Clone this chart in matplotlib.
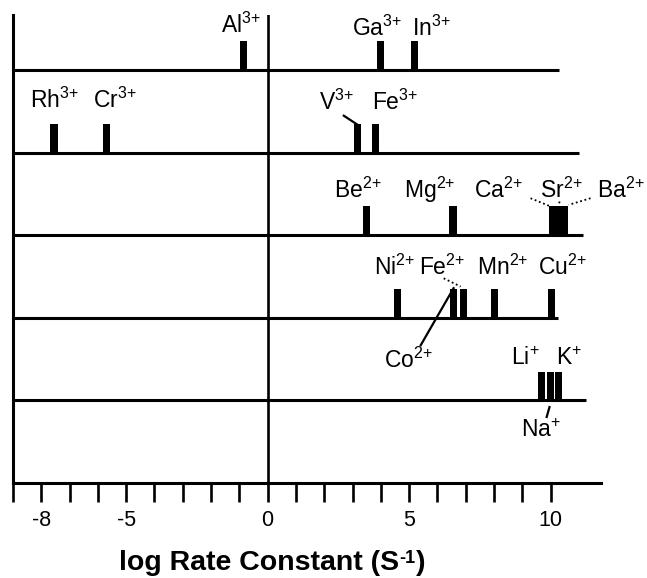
import matplotlib.pyplot as plt

plt.rcParams['font.family'] = ['Liberation Sans', 'DejaVu Sans']
plt.rcParams['mathtext.default'] = 'regular'
plt.rcParams['axes.unicode_minus'] = False

# metal ions, log of water exchange rate constant, row of the ladder
ions = ['Al', 'Ga', 'In',
        'Rh', 'Cr', 'V', 'Fe',
        'Be', 'Mg', 'Ca', 'Sr', 'Ba',
        'Ni', 'Co', 'Fe', 'Mn', 'Cu',
        'Li', 'Na', 'K']
charges = ['3', '3', '3',
           '3', '3', '3', '3',
           '2', '2', '2', '2', '2',
           '2', '2', '2', '2', '2',
           '', '', '']
log_k = [-0.85, 4.0, 5.2,
         -7.55, -5.7, 3.18, 3.82,
         3.5, 6.55, 10.05, 10.3, 10.5,
         4.6, 6.57, 6.93, 8.02, 10.03,
         9.68, 10.0, 10.28]
rows = [5, 5, 5,
        4, 4, 4, 4,
        3, 3, 3, 3, 3,
        2, 2, 2, 2, 2,
        1, 1, 1]

row_levels = [5, 4, 3, 2, 1]
row_ends = [10.28, 10.99, 11.13, 10.25, 11.24]

tick_pos = list(range(-9, 11))
tick_labels = ['-8' if t == -8 else '-5' if t == -5 else '0' if t == 0
               else '5' if t == 5 else '10' if t == 10 else '' for t in tick_pos]

fig = plt.figure(figsize=(6.47, 5.78), dpi=100)
ax = fig.add_axes([13 / 647, 95 / 578, 588 / 647, 468 / 578])
ax.set_xlim(-9, 11.78)
ax.set_ylim(0, 5.67)

lw = 2.2
for s in ['top', 'right']:
    ax.spines[s].set_visible(False)
for s in ['left', 'bottom']:
    ax.spines[s].set_linewidth(lw)
ax.set_yticks([])
ax.set_xticks(tick_pos)
ax.set_xticklabels(tick_labels, fontsize=15.5)
ax.tick_params(axis='x', direction='out', length=13.7, width=1.9, pad=6)

ax.axvline(0, color='black', lw=1.9)
ax.hlines(row_levels, -9, row_ends, color='black', lw=lw)

ax.bar(log_k, 0.35, width=0.25, bottom=rows, color='black', edgecolor='none')

# label positions (center x, baseline y) in data units
label_xy = {
    ('Al', 5): (-0.95, 5.45), ('Ga', 5): (3.85, 5.42), ('In', 5): (5.8, 5.42),
    ('Rh', 4): (-7.54, 4.54), ('Cr', 4): (-5.39, 4.54), ('V', 4): (2.42, 4.52),
    ('Fe', 4): (4.52, 4.52),
    ('Be', 3): (3.18, 3.46), ('Mg', 3): (5.72, 3.46), ('Ca', 3): (8.14, 3.46),
    ('Sr', 3): (10.39, 3.46), ('Ba', 3): (12.49, 3.46),
    ('Ni', 2): (4.47, 2.52), ('Co', 2): (4.98, 1.40), ('Fe', 2): (6.18, 2.52),
    ('Mn', 2): (8.32, 2.52), ('Cu', 2): (10.42, 2.52),
    ('Li', 1): (9.12, 1.43), ('Na', 1): (9.65, 0.56), ('K', 1): (10.64, 1.43),
}
for ion, ch, r in zip(ions, charges, rows):
    lx, ly = label_xy[(ion, r)]
    ax.text(lx, ly, ion + '$^{' + ch + '{+}}$', fontsize=16.5, ha='center',
            va='baseline', clip_on=False)

# leader lines
ax.plot([2.69, 3.18], [4.45, 4.34], color='black', lw=1.6)
ax.plot([6.57, 5.41], [2.36, 1.67], color='black', lw=1.6)
ax.plot([9.96, 9.86], [0.92, 0.80], color='black', lw=1.6)
for (x0, x1), (y0, y1) in [((9.29, 10.0), (3.45, 3.35)),
                           ((10.32, 10.28), (3.41, 3.37)),
                           ((11.41, 10.64), (3.45, 3.37)),
                           ((6.22, 6.82), (2.48, 2.38))]:
    ax.plot([x0, x1], [y0, y1], color='black', lw=1.3, ls=(0, (1, 1.5)),
            clip_on=False)

xl = ax.text(-5.27, -1.06, 'log Rate Constant (S', fontsize=20.5,
             fontweight='bold', ha='left', va='baseline', clip_on=False)
sup = ax.annotate('-1', xy=(1, 1), xycoords=xl, xytext=(0.5, 0),
                  textcoords='offset points', fontsize=13, fontweight='bold',
                  ha='left', va='top')
ax.annotate(')', xy=(1, 0), xycoords=(sup, xl), xytext=(0.5, 0),
            textcoords='offset points', fontsize=20.5, fontweight='bold',
            ha='left', va='bottom')

fig.savefig('out.png', dpi=100)
